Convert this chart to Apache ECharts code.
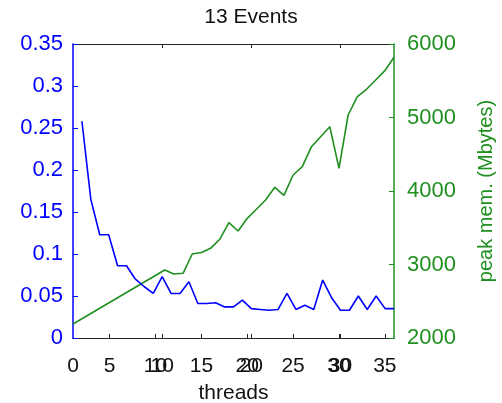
<!DOCTYPE html>
<html>
<head>
<meta charset="utf-8">
<script src="https://cdn.jsdelivr.net/npm/echarts@6/dist/echarts.min.js"></script>
<style>
  html, body { margin: 0; padding: 0; background: #fff; }
  #chart { width: 502px; height: 403px; }
</style>
</head>
<body>
<div id="chart"></div>
<script>
// ---- data ----
// blue: time per event, plotted against the 0..36 thread axis
const threadsTime = [1, 2, 3, 4, 5, 6, 7, 8, 9, 10, 11, 12, 13, 14, 15, 16, 17, 18,
  19, 20, 21, 22, 23, 24, 25, 26, 27, 28, 29, 30, 31, 32, 33, 34, 35, 36];
const timePerEvent = [0.258, 0.165, 0.123, 0.123, 0.086, 0.086, 0.070, 0.061, 0.053,
  0.073, 0.053, 0.053, 0.067, 0.041, 0.041, 0.042, 0.037, 0.037, 0.045, 0.035, 0.034,
  0.033, 0.034, 0.053, 0.034, 0.039, 0.034, 0.069, 0.048, 0.033, 0.033, 0.050, 0.034,
  0.050, 0.035, 0.035];

// green: peak memory (Mbytes), plotted against the 1..36 thread axis
const threadsMem = [1, 11, 12, 13, 14, 15, 16, 17, 18, 19, 20, 21, 22, 23, 24,
  25, 26, 27, 28, 29, 30, 31, 32, 33, 34, 35, 36];
const peakMem = [2190, 2925, 2870, 2880, 3143, 3163, 3220, 3343, 3569, 3456, 3628,
  3751, 3877, 4050, 3940, 4218, 4331, 4603, 4739, 4875, 4309, 5034, 5283, 5384,
  5510, 5637, 5819];

// tick labels
const xTicksMain = [1, 5, 10, 15, 20, 25, 30, 35];
const xLabelsMain = ["0", "5", "10", "15", "20", "25", "30", "35"];
const xTicksSecond = [10, 20, 30];

const BLUE = "#0000ff";
const GREEN = "#1f8f1f";
const FONT = "Liberation Sans";

const chart = echarts.init(document.getElementById("chart"));

const xLine = { show: true, onZero: false, lineStyle: { color: "#222", width: 1 } };

chart.setOption({
  animation: false,
  title: {
    text: "13 Events",
    left: "center",
    top: 2,
    textStyle: { fontFamily: FONT, fontSize: 21, fontWeight: "normal", color: "#111" },
  },
  grid: { left: 73, right: 108, top: 44, bottom: 65, containLabel: false, outerBoundsMode: "none" },
  xAxis: [
    {
      type: "value", position: "bottom", min: 1, max: 36,
      axisLine: xLine,
      splitLine: { show: false },
      axisTick: { inside: true, length: 4, customValues: xTicksMain.slice(1), lineStyle: { color: "#222" } },
      axisLabel: {
        customValues: xTicksMain, margin: 18,
        fontFamily: FONT, fontSize: 21, color: "#111",
        formatter: (v) => xLabelsMain[xTicksMain.indexOf(v)],
      },
      name: "threads", nameLocation: "middle", nameGap: 45,
      nameTextStyle: { fontFamily: FONT, fontSize: 21, color: "#111" },
    },
    {
      type: "value", position: "bottom", min: 0, max: 36,
      axisLine: xLine,
      splitLine: { show: false },
      axisTick: { inside: true, length: 4, customValues: xTicksSecond, lineStyle: { color: "#222" } },
      axisLabel: {
        customValues: xTicksSecond, margin: 18,
        fontFamily: FONT, fontSize: 21, color: "#111",
      },
    },
    {
      type: "value", position: "top", min: 0, max: 36,
      axisLine: xLine,
      splitLine: { show: false },
      axisTick: { inside: true, length: 4, customValues: xTicksSecond, lineStyle: { color: "#222" } },
      axisLabel: { show: false },
    },
  ],
  yAxis: [
    {
      type: "value", position: "left", min: 0, max: 0.35, interval: 0.05,
      axisLine: { show: true, onZero: false, lineStyle: { color: BLUE, width: 1.5 } },
      axisTick: { show: true, inside: true, length: 5, lineStyle: { color: BLUE } },
      splitLine: { show: false },
      axisLabel: { margin: 10, fontFamily: FONT, fontSize: 22, color: BLUE },
    },
    {
      type: "value", position: "right", min: 2000, max: 6000, interval: 1000,
      axisLine: { show: true, onZero: false, lineStyle: { color: GREEN, width: 1.5 } },
      axisTick: { show: true, inside: true, length: 5, lineStyle: { color: GREEN } },
      splitLine: { show: false },
      axisLabel: {
        margin: 13, fontFamily: FONT, fontSize: 22, color: GREEN,
        formatter: (v) => String(v),
      },
      name: "peak mem. (Mbytes)", nameLocation: "middle", nameGap: 82, nameRotate: 90,
      nameTextStyle: { fontFamily: FONT, fontSize: 20, color: GREEN },
    },
  ],
  series: [
    {
      type: "line", xAxisIndex: 0, yAxisIndex: 1,
      data: threadsMem.map((t, i) => [t, peakMem[i]]),
      showSymbol: false,
      lineStyle: { color: GREEN, width: 1.6 },
      itemStyle: { color: GREEN },
      z: 2,
    },
    {
      type: "line", xAxisIndex: 1, yAxisIndex: 0,
      data: threadsTime.map((t, i) => [t, timePerEvent[i]]),
      showSymbol: false,
      lineStyle: { color: BLUE, width: 1.6 },
      itemStyle: { color: BLUE },
      z: 3,
    },
  ],
});
</script>
</body>
</html>
